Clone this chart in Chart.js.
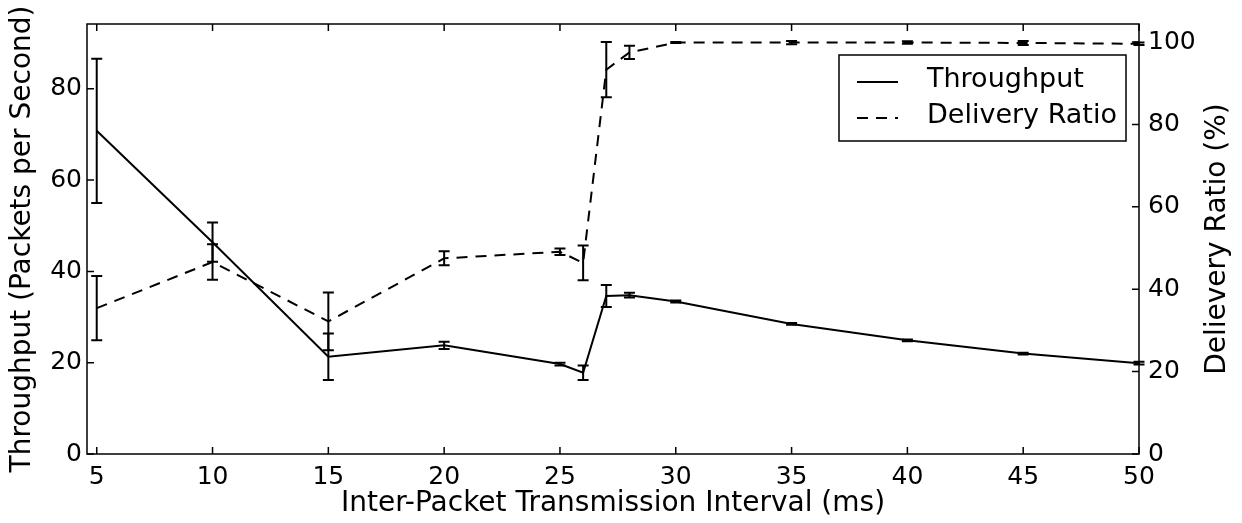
<!DOCTYPE html>
<html>
<head>
<meta charset="utf-8">
<script src="https://cdn.jsdelivr.net/npm/chart.js@4/dist/chart.umd.min.js"></script>
<style>
  html, body { margin: 0; padding: 0; background: #fff; }
  #wrap { width: 1242px; height: 523px; }
</style>
</head>
<body>
<div id="wrap"><canvas id="chart" width="1242" height="523"></canvas></div>
<script>
/* data */
const intervals = [5, 10, 15, 20, 25, 26, 27, 28, 30, 35, 40, 45, 50]
const throughput = [70.8, 46.4, 21.3, 23.8, 19.7, 17.8, 34.6, 34.8, 33.4, 28.5, 24.9, 22.0, 19.9]
const throughputErr = [15.8, 4.3, 5.1, 0.8, 0.3, 1.6, 2.4, 0.5, 0.2, 0.2, 0.2, 0.2, 0.3]
const delivery = [35.4, 46.6, 32.2, 47.5, 49.1, 46.4, 93.3, 97.5, 99.9, 99.9, 99.9, 99.8, 99.6]
const deliveryErr = [7.8, 4.3, 7.0, 1.7, 0.8, 4.2, 6.7, 1.6, 0.1, 0.4, 0.3, 0.5, 0.3]

const xTicks = [5, 10, 15, 20, 25, 30, 35, 40, 45, 50]
const leftTicks = [0, 20, 40, 60, 80]
const rightTicks = [0, 20, 40, 60, 80, 100]
const rightTitle = 'Delievery Ratio (%)'

const FONT = 'DejaVu Sans'
const tickFont = { family: FONT, size: 25 }
const titleFont = { family: FONT, size: 28 }

const toPoints = (ys) => ys.map((y, i) => ({ x: intervals[i], y: y }))

/* error bars with caps */
const errorBars = {
  id: 'errorBars',
  afterDatasetsDraw(chart) {
    const ctx = chart.ctx
    const xs = chart.scales.x
    ctx.save()
    chart.data.datasets.forEach(ds => {
      const ys = chart.scales[ds.yAxisID]
      ctx.strokeStyle = '#000'
      ctx.lineWidth = 2
      ctx.setLineDash([])
      ds.data.forEach((p, i) => {
        const e = ds.errors[i]
        const px = xs.getPixelForValue(p.x)
        const top = ys.getPixelForValue(p.y + e)
        const bot = ys.getPixelForValue(p.y - e)
        ctx.beginPath()
        ctx.moveTo(px, top); ctx.lineTo(px, bot)
        ctx.moveTo(px - 5.5, top); ctx.lineTo(px + 5.5, top)
        ctx.moveTo(px - 5.5, bot); ctx.lineTo(px + 5.5, bot)
        ctx.stroke()
      })
    })
    ctx.restore()
  }
}

/* matplotlib style frame with inward ticks, legend, right label */
const frame = {
  id: 'frame',
  afterDraw(chart) {
    const ctx = chart.ctx
    const a = chart.chartArea
    const tl = 7
    ctx.save()
    ctx.strokeStyle = '#000'
    ctx.lineWidth = 1.5
    ctx.strokeRect(a.left, a.top, a.right - a.left, a.bottom - a.top)
    ctx.beginPath()
    xTicks.forEach(v => {
      const px = chart.scales.x.getPixelForValue(v)
      ctx.moveTo(px, a.bottom); ctx.lineTo(px, a.bottom - tl)
      ctx.moveTo(px, a.top); ctx.lineTo(px, a.top + tl)
    })
    leftTicks.forEach(v => {
      const py = chart.scales.yL.getPixelForValue(v)
      ctx.moveTo(a.left, py); ctx.lineTo(a.left + tl, py)
    })
    rightTicks.forEach(v => {
      const py = chart.scales.yR.getPixelForValue(v)
      ctx.moveTo(a.right, py); ctx.lineTo(a.right - tl, py)
    })
    ctx.stroke()

    // legend
    const bx = 839, by = 55, bw = 287, bh = 86
    ctx.fillStyle = '#fff'
    ctx.fillRect(bx, by, bw, bh)
    ctx.strokeRect(bx, by, bw, bh)
    ctx.font = '27px "' + FONT + '"'
    ctx.textBaseline = 'alphabetic'
    ctx.fillStyle = '#000'
    chart.data.datasets.forEach((ds, i) => {
      const y = by + 27 + i * 36
      ctx.lineWidth = 2
      ctx.setLineDash(ds.borderDash || [])
      ctx.beginPath()
      ctx.moveTo(bx + 18, y); ctx.lineTo(bx + 59, y)
      ctx.stroke()
      ctx.setLineDash([])
      ctx.fillText(ds.label, bx + 88, y + 5)
    })

    // right axis title, reading bottom to top
    ctx.font = '28px "' + FONT + '"'
    ctx.textAlign = 'center'
    ctx.textBaseline = 'middle'
    ctx.translate(1218, (a.top + a.bottom) / 2)
    ctx.rotate(-Math.PI / 2)
    ctx.fillText(rightTitle, 0, 0)
    ctx.restore()
  }
}

const setTicks = (list) => (scale) => { scale.ticks = list.map(v => ({ value: v })) }

new Chart(document.getElementById('chart'), {
  type: 'line',
  data: {
    datasets: [
      {
        label: 'Throughput',
        data: toPoints(throughput),
        errors: throughputErr,
        yAxisID: 'yL',
        borderColor: '#000',
        borderWidth: 2,
        pointRadius: 0,
        tension: 0,
        fill: false
      },
      {
        label: 'Delivery Ratio',
        data: toPoints(delivery),
        errors: deliveryErr,
        yAxisID: 'yR',
        borderColor: '#000',
        borderWidth: 2,
        borderDash: [11, 8],
        pointRadius: 0,
        tension: 0,
        fill: false
      }
    ]
  },
  options: {
    responsive: false,
    animation: false,
    layout: { padding: { top: 19, left: 0, right: 0, bottom: 0 } },
    plugins: { legend: { display: false }, tooltip: { enabled: false } },
    scales: {
      x: {
        type: 'linear',
        min: 4.58,
        max: 50,
        afterBuildTicks: setTicks(xTicks),
        afterFit: (s) => { s.height = 69 },
        grid: { display: false, drawTicks: false },
        border: { display: false },
        ticks: { color: '#000', font: tickFont, padding: 8, maxRotation: 0, autoSkip: false },
        title: {
          display: true,
          text: 'Inter-Packet Transmission Interval (ms)',
          color: '#000',
          font: titleFont,
          padding: { top: 0, bottom: 2 }
        }
      },
      yL: {
        type: 'linear',
        position: 'left',
        min: 0,
        max: 94.2,
        afterBuildTicks: setTicks(leftTicks),
        afterFit: (s) => { s.width = 87 },
        grid: { display: false, drawTicks: false },
        border: { display: false },
        ticks: { color: '#000', font: tickFont, padding: 5 },
        title: {
          display: true,
          text: 'Throughput (Packets per Second)',
          color: '#000',
          font: titleFont,
          padding: { top: 6, bottom: 0 }
        }
      },
      yR: {
        type: 'linear',
        position: 'right',
        min: 0,
        max: 104.4,
        afterBuildTicks: setTicks(rightTicks),
        afterFit: (s) => { s.width = 103 },
        grid: { display: false, drawTicks: false },
        border: { display: false },
        ticks: { color: '#000', font: tickFont, padding: 9 }
      }
    }
  },
  plugins: [errorBars, frame]
})
</script>
</body>
</html>
